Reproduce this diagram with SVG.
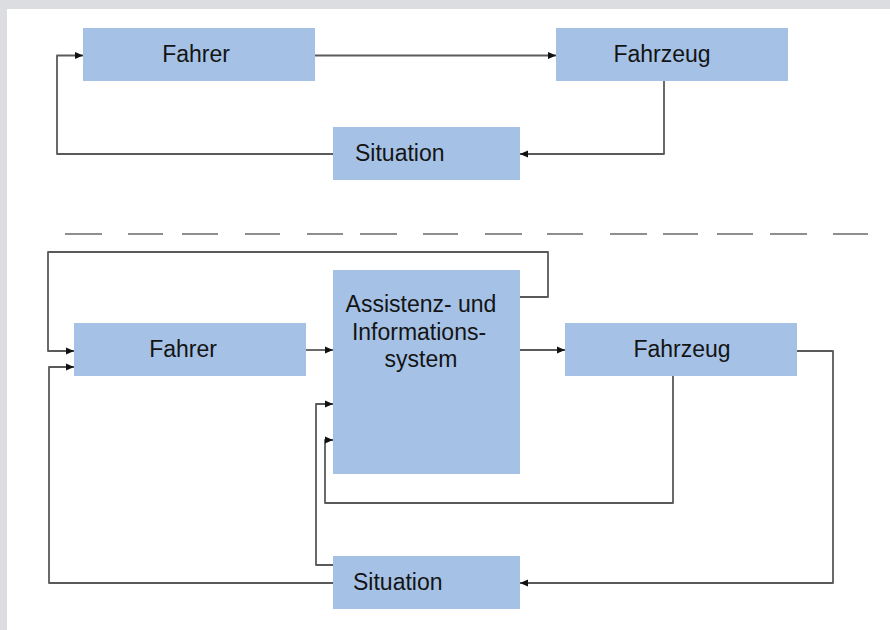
<svg xmlns="http://www.w3.org/2000/svg" width="890" height="630" viewBox="0 0 890 630">
<defs>
<marker id="arr" markerUnits="userSpaceOnUse" markerWidth="9" markerHeight="8" refX="8" refY="4" orient="auto">
<path d="M0,0.5 L8,4 L0,7.5 z" fill="#111"/>
</marker>
<style>
.box{fill:#a5c2e6;}
.lbl{font-family:"Liberation Sans",Arial,sans-serif;font-size:23px;fill:#141414;}
.c{fill:none;stroke:#5a5a5a;stroke-width:1.8;stroke-linejoin:round;}
.dash{fill:none;stroke:#6a6a6a;stroke-width:1.6;}
</style>
</defs>
<rect x="0" y="0" width="890" height="630" fill="#ffffff"/>
<rect x="0" y="0" width="890" height="9" fill="#dcdde0"/>
<rect x="0" y="0" width="7" height="630" fill="#dcdde0"/>

<g id="connectors">
<path class="c" d="M315,55.5 H556" marker-end="url(#arr)"/>
<path class="c" d="M664,81 V154 H520" marker-end="url(#arr)"/>
<path class="c" d="M333,154 H57 V55.5 H83" marker-end="url(#arr)"/>

<path class="c" d="M520,297 H548 V252 H48 V351 H74" marker-end="url(#arr)"/>
<path class="c" d="M333,583 H49 V367 H74" marker-end="url(#arr)"/>
<path class="c" d="M306,350 H333" marker-end="url(#arr)"/>
<path class="c" d="M520,350 H565" marker-end="url(#arr)"/>
<path class="c" d="M797,351 H833 V583 H520" marker-end="url(#arr)"/>
<path class="c" d="M673,376 V503 H325 V440 H333" marker-end="url(#arr)"/>
<path class="c" d="M333,565 H316 V404 H333" marker-end="url(#arr)"/>
</g>

<path class="dash" d="M65,234 H102 M128,234 H163 M182,234 H218 M245,234 H280 M307,234 H343 M360,234 H397 M423,234 H458 M485,234 H522 M547,234 H583 M610,234 H647 M663,234 H698 M717,234 H753 M770,234 H807 M833,234 H868"/>

<g id="fahrer1">
<rect class="box" x="83" y="28" width="232" height="53"/>
<text class="lbl" x="196" y="62" text-anchor="middle">Fahrer</text>
</g>
<g id="fahrzeug1">
<rect class="box" x="556" y="28" width="232" height="53"/>
<text class="lbl" x="662" y="62" text-anchor="middle">Fahrzeug</text>
</g>
<g id="situation1">
<rect class="box" x="333" y="127" width="187" height="53"/>
<text class="lbl" x="355" y="161">Situation</text>
</g>

<g id="fahrer2">
<rect class="box" x="74" y="323" width="232" height="53"/>
<text class="lbl" x="183" y="357" text-anchor="middle">Fahrer</text>
</g>
<g id="assistenz">
<rect class="box" x="333" y="270" width="187" height="204"/>
<text class="lbl" text-anchor="middle"><tspan x="421" y="312">Assistenz- und</tspan><tspan x="419" y="340">Informations-</tspan><tspan x="421" y="367">system</tspan></text>
</g>
<g id="fahrzeug2">
<rect class="box" x="565" y="323" width="232" height="53"/>
<text class="lbl" x="682" y="357" text-anchor="middle">Fahrzeug</text>
</g>
<g id="situation2">
<rect class="box" x="333" y="556" width="187" height="53"/>
<text class="lbl" x="353" y="590">Situation</text>
</g>
</svg>
